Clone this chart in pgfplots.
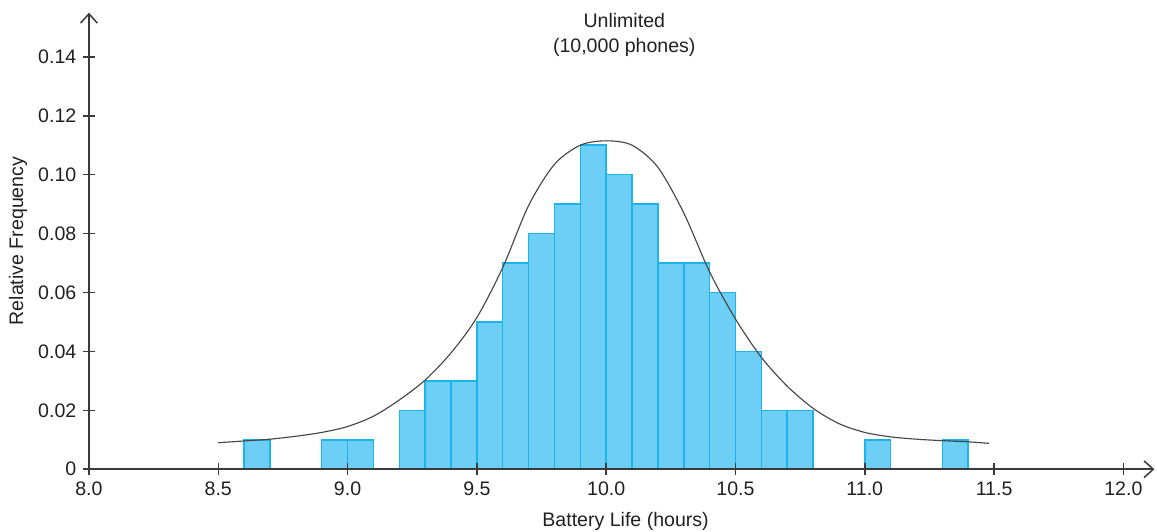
\documentclass[border=0pt]{standalone}
\usepackage{pgfplots}
\pgfplotsset{compat=1.18}
\usepackage{fontspec}
\setmainfont{Liberation Sans}
\usetikzlibrary{arrows.meta}
\definecolor{barfill}{HTML}{6ECFF6}
\definecolor{baredge}{HTML}{1DB4EC}
\definecolor{axisgray}{HTML}{3A3A3A}
\definecolor{txt}{HTML}{231F20}
\definecolor{curvegray}{HTML}{444444}

\begin{document}
\begin{tikzpicture}
\begin{axis}[
    x=138.8pt, y=1581pt,
    xmin=8, xmax=12.12,
    ymin=0, ymax=0.155,
    clip=false,
    axis on top,
    axis lines=left,
    axis line style={axisgray, line width=0.8pt, -{Straight Barb[length=5pt,width=9pt]}},
    tick align=center,
    major tick length=6.5pt,
    tick style={axisgray, line width=0.8pt},
    xtick={8,8.5,9,9.5,10,10.5,11,11.5,12},
    xticklabels={8.0,8.5,9.0,9.5,10.0,10.5,11.0,11.5,12.0},
    ytick={0,0.02,0.04,0.06,0.08,0.10,0.12,0.14},
    yticklabels={0,0.02,0.04,0.06,0.08,0.10,0.12,0.14},
    tick label style={font=\fontsize{10.5}{12}\selectfont, text=txt},
    xlabel={Battery Life (hours)},
    ylabel={Relative Frequency},
    label style={font=\fontsize{10.5}{12}\selectfont, text=txt},
    xlabel style={at={(axis cs:10.075,-0.0193)}, anchor=base, inner sep=0pt},
    ylabel style={at={(axis description cs:-0.0665,0.5)}, anchor=center, inner sep=0pt},
    every axis title shift=0pt,
    title={Unlimited\\(10,000 phones)},
    title style={at={(axis cs:10.07,0.1549)}, anchor=north, align=center, inner sep=0pt,
                 font=\fontsize{10.5}{13.4}\selectfont, text=txt},
]
% histogram, bars 0.1 h wide, given by their centres
\addplot[ybar, bar width=0.1, bar shift=0pt, fill=barfill, draw=baredge, line width=0.8pt]
  coordinates {
    (8.65,0.01) (8.95,0.01) (9.05,0.01)
    (9.25,0.02) (9.35,0.03) (9.45,0.03) (9.55,0.05) (9.65,0.07)
    (9.75,0.08) (9.85,0.09) (9.95,0.11) (10.05,0.10) (10.15,0.09)
    (10.25,0.07) (10.35,0.07) (10.45,0.06) (10.55,0.04) (10.65,0.02)
    (10.75,0.02) (11.05,0.01) (11.35,0.01)
  };
% fitted curve
\addplot[curvegray, line width=0.6pt, smooth, mark=none]
  coordinates {
    (8.50,0.0090) (8.60,0.0096) (8.70,0.0102) (8.80,0.0112) (8.90,0.0125)
    (9.00,0.0145) (9.10,0.0180) (9.20,0.0235) (9.30,0.0303) (9.40,0.0395)
    (9.50,0.0515) (9.60,0.0685) (9.70,0.0895) (9.80,0.1035) (9.90,0.1100)
    (10.00,0.1115) (10.10,0.1100) (10.20,0.1025) (10.30,0.0870) (10.40,0.0670)
    (10.50,0.0510) (10.60,0.0380) (10.70,0.0282) (10.80,0.0207) (10.90,0.0155)
    (11.00,0.0125) (11.10,0.0110) (11.20,0.0102) (11.30,0.0097) (11.40,0.0093)
    (11.48,0.0088)
  };
% fix the page to the reference's frame
\path (axis cs:7.656,-0.021) rectangle (axis cs:12.13,0.1593);
\end{axis}
\end{tikzpicture}
\end{document}
